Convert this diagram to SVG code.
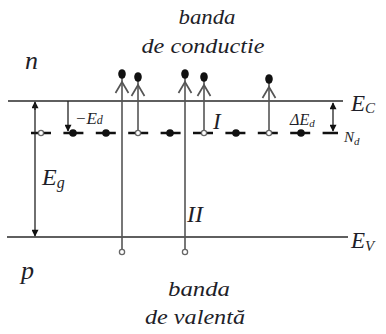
<svg xmlns="http://www.w3.org/2000/svg" width="386" height="334" viewBox="0 0 386 334">
<style>
text{font-family:"Liberation Serif","Times New Roman",serif;font-style:italic;fill:#1e1e28}
.lvl{stroke:#2a2a2a;stroke-width:1.6;fill:none}
.ln{stroke:#555;stroke-width:1.6;fill:none}
.ar{stroke:#222;stroke-width:1.3;fill:none}
.chev{stroke:#555;stroke-width:1.7;fill:none}
.dot{fill:#111}
.hole{fill:#fff;stroke:#666;stroke-width:1.3}
</style>
<defs>
<marker id="ah" viewBox="0 0 10 10" refX="9" refY="5" markerWidth="8" markerHeight="7" orient="auto-start-reverse" markerUnits="userSpaceOnUse">
<path d="M0,0 L10,5 L0,10 z" fill="#111"/>
</marker>
</defs>
<rect width="386" height="334" fill="#fff"/>
<g id="levels">
<line class="lvl" x1="8" y1="101" x2="343" y2="101"/>
<line class="lvl" x1="7" y1="237" x2="348" y2="237"/>
<line x1="31" y1="133" x2="338" y2="133" stroke="#111" stroke-width="2.6" stroke-dasharray="20 12.4"/>
</g>
<g id="connectors">
<line class="ln" x1="122" y1="250" x2="122" y2="76"/>
<line class="ln" x1="185" y1="250" x2="185" y2="76"/>
<line class="ln" x1="138" y1="131" x2="138" y2="79"/>
<line class="ln" x1="204" y1="131" x2="204" y2="79"/>
<line class="ln" x1="269" y1="131" x2="269" y2="81"/>
<polyline class="chev" points="115.5,93 122,82 128.5,93"/>
<polyline class="chev" points="178.5,93 185,82 191.5,93"/>
<polyline class="chev" points="131.5,96 138,85 144.5,96"/>
<polyline class="chev" points="197.5,96 204,85 210.5,96"/>
<polyline class="chev" points="262.5,98 269,87 275.5,98"/>
<line class="ar" x1="35" y1="110" x2="35" y2="102" marker-end="url(#ah)"/>
<line class="ar" x1="35" y1="104" x2="35" y2="236" marker-end="url(#ah)"/>
<line class="ar" x1="68" y1="101" x2="68" y2="131" marker-end="url(#ah)"/>
<line class="ar" x1="333" y1="103" x2="333" y2="131" marker-start="url(#ah)" marker-end="url(#ah)"/>
</g>
<g id="electrons">
<ellipse class="dot" cx="122" cy="74" rx="3.8" ry="4.8"/>
<ellipse class="dot" cx="185" cy="74" rx="3.8" ry="4.8"/>
<ellipse class="dot" cx="138" cy="77" rx="3.8" ry="4.8"/>
<ellipse class="dot" cx="204" cy="77" rx="3.8" ry="4.8"/>
<ellipse class="dot" cx="269" cy="79" rx="3.8" ry="4.8"/>
</g>
<g id="donors">
<circle class="dot" cx="73" cy="133" r="3.8"/>
<circle class="dot" cx="106" cy="133" r="3.8"/>
<circle class="dot" cx="170" cy="133" r="3.8"/>
<circle class="dot" cx="236" cy="133" r="3.8"/>
<circle class="dot" cx="301" cy="133" r="3.8"/>
<circle class="hole" cx="41" cy="133" r="2.6"/>
<circle class="hole" cx="138" cy="133" r="2.6"/>
<circle class="hole" cx="204" cy="133" r="2.6"/>
<circle class="hole" cx="269" cy="133" r="2.6"/>
<circle class="hole" cx="122" cy="252" r="2.6"/>
<circle class="hole" cx="185" cy="252" r="2.6"/>
</g>
<g id="labels">
<text x="25" y="69" font-size="26">n</text>
<text x="207" y="24" font-size="20" text-anchor="middle" textLength="57" lengthAdjust="spacingAndGlyphs">banda</text>
<text x="203" y="53" font-size="20" text-anchor="middle" textLength="123" lengthAdjust="spacingAndGlyphs">de conductie</text>
<text x="351" y="111" font-size="23">E<tspan font-size="15" dy="2">C</tspan></text>
<text x="75" y="124" font-size="17">−E<tspan font-size="12">d</tspan></text>
<text x="213" y="129" font-size="23">I</text>
<text x="290" y="125" font-size="16">ΔE<tspan font-size="11" dy="2">d</tspan></text>
<text x="344" y="142" font-size="15">N<tspan font-size="11" dy="3">d</tspan></text>
<text x="42" y="185" font-size="24">E<tspan font-size="16" dy="3">g</tspan></text>
<text x="187" y="222" font-size="24">II</text>
<text x="351" y="248" font-size="23">E<tspan font-size="15" dy="3">V</tspan></text>
<text x="21" y="279" font-size="26">p</text>
<text x="199" y="296" font-size="20" text-anchor="middle" textLength="62" lengthAdjust="spacingAndGlyphs">banda</text>
<text x="195" y="324" font-size="20" text-anchor="middle" textLength="100" lengthAdjust="spacingAndGlyphs">de valentă</text>
</g>
</svg>
